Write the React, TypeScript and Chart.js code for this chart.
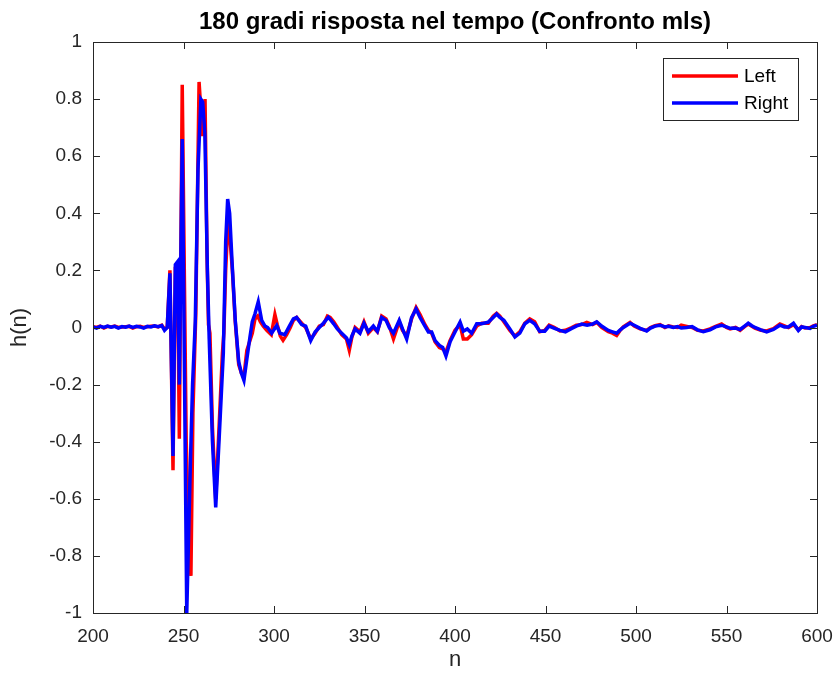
import React, { useEffect, useRef } from "react";
import { Chart, registerables } from "chart.js";

Chart.register(...registerables);

const titleText = "180 gradi risposta nel tempo (Confronto mls)";
const xLabel = "n";
const yLabel = "h(n)";
const xTicks = [200, 250, 300, 350, 400, 450, 500, 550, 600];
const yTicks = [-1, -0.8, -0.6, -0.4, -0.2, 0, 0.2, 0.4, 0.6, 0.8, 1];
const yTickLabels = ["-1", "-0.8", "-0.6", "-0.4", "-0.2", "0", "0.2", "0.4", "0.6", "0.8", "1"];
const seriesNames = ["Left", "Right"];

const rightN = [
  200, 202, 204, 206, 208, 210, 212, 214, 216, 218, 220, 222, 224, 226, 228, 230, 232, 234, 236, 238, 239.5,
  241, 242.5, 244.2, 245.5, 246.7, 247.7, 249.3, 251.8, 253.5, 255, 256.5, 258, 259.6, 260.6, 261.8, 263.2,
  264.2, 266, 267.8, 270, 272, 273.3, 274.4, 275.5, 276.9, 278.6, 280.5, 282, 283.4, 285, 286.7, 288, 289.5,
  291.3, 293.2, 295, 296.5, 298.7, 301.5, 303.3, 306, 308.5, 310.7, 312.5, 315.3, 317.5, 320.3, 322.7, 325,
  327.3, 330, 331.5, 333, 335, 337.4, 340.1, 341.6, 343, 344.8, 347.5, 349.7, 352.1, 354.9, 357.1, 359.5,
  361.9, 363.7, 366, 369.2, 371, 373.3, 376, 378.5, 380.7, 383.4, 385.3, 387.1, 389, 391.4, 393.2, 395,
  397.3, 400, 402.8, 404.6, 406.8, 409.2, 412, 414.7, 418.4, 421.1, 423, 424.8, 427, 430.3, 433.1, 435.8,
  438.6, 441.3, 444, 446.8, 449.6, 452, 455, 458, 461, 464.5, 467, 470, 473, 476, 478.3, 481, 484.7, 487,
  489.3, 491, 493, 496.7, 499, 502.3, 505.9, 508, 510.5, 513.3, 516, 518, 520.6, 523, 525, 528, 531, 534,
  537.2, 540.9, 544, 547.3, 550, 552, 555, 557.5, 560, 562, 564, 565.7, 569, 572.2, 575.9, 579.5, 582,
  584.2, 587, 589.7, 591.5, 593.4, 596.2, 598, 600,
];
const rightH = [
  0.002, -0.002, 0.004, 0.0, 0.005, 0.001, 0.004, -0.002, 0.003, 0.001, 0.005, 0.0, 0.004, 0.002, -0.002, 0.004, 0.002, 0.006, 0.003, 0.007, -0.01,
  0.0, 0.19, -0.45, 0.22, 0.23, -0.2, 0.66, -1.0, -0.55, -0.2, 0.02, 0.55, 0.8, 0.79, 0.68, 0.2,
  -0.04, -0.4, -0.63, -0.35, -0.09, 0.3, 0.45, 0.4, 0.22, 0.025, -0.12, -0.16, -0.185, -0.11, -0.034, 0.02, 0.048,
  0.09, 0.025, 0.005, 0.0, -0.02, 0.007, -0.02, -0.025, 0.005, 0.03, 0.035, 0.01, 0.005, -0.046, -0.016, 0.0,
  0.015, 0.036, 0.025, 0.013, -0.005, -0.02, -0.037, -0.06, -0.03, -0.005, -0.02, 0.015, -0.015, 0.005, -0.013, 0.035,
  0.025, 0.0, -0.02, 0.025, -0.005, -0.04, 0.035, 0.065, 0.035, 0.005, -0.016, -0.016, -0.046, -0.063, -0.07, -0.1,
  -0.05, -0.016, 0.019, -0.013, -0.005, -0.02, 0.013, 0.013, 0.019, 0.035, 0.047, 0.035, 0.025, -0.005, -0.033, -0.02,
  0.013, 0.025, 0.013, -0.013, -0.013, 0.005, -0.003, -0.01, -0.015, -0.003, 0.005, 0.012, 0.008, 0.012, 0.02, 0.005, -0.01, -0.015,
  -0.02, -0.01, 0.0, 0.015, 0.008, -0.003, -0.012, -0.002, 0.005, 0.008, 0.002, 0.004, 0.0, 0.003, -0.002, 0.0, 0.003, -0.008,
  -0.015, -0.008, 0.002, 0.008, 0.002, -0.003, -0.002, -0.007, 0.005, 0.015, 0.006, 0.0, -0.008, -0.015, -0.007, 0.008, 0.002,
  0.002, 0.015, -0.01, 0.002, 0.0, -0.003, 0.004, 0.008,
];

const leftN = [
  200, 202, 204, 206, 208, 210, 212, 214, 216, 218, 220, 222, 224, 226, 228, 230, 232, 234, 236, 238, 239.5,
  241, 242.5, 244.2, 245.5, 246.7, 247.7, 249.3, 251.5, 253, 254.1, 255.2, 256.8, 258.6, 260.5, 261.9, 263,
  263.8, 264.6, 266, 267.8, 270, 271.5, 272.3, 273.3, 274.5, 275.5, 277, 278.6, 280.5, 282, 283.4, 285,
  286.5, 288, 289.5, 291, 292.5, 294, 296, 298.5, 300.5, 301.8, 303.5, 305, 307, 309, 310.7, 312.5, 315.3,
  317.5, 320.3, 322.7, 325, 327.3, 329.5, 331, 333, 335, 337.4, 340, 341.6, 343, 344.8, 347.5, 349.7, 352.1,
  354.9, 357.1, 359.5, 361.9, 363.7, 366, 369.2, 371, 373.3, 376, 378.5, 380.7, 383.4, 385.3, 387.1, 389,
  391.4, 393.2, 395, 397.3, 400, 402.8, 404.6, 406.8, 409.2, 412, 414.7, 418.4, 421.1, 423, 424.8, 427,
  430.3, 433.1, 435.8, 438.6, 441.3, 444, 446.8, 449.6, 452, 455, 458, 461, 464.5, 467, 470, 472.8, 476,
  478.3, 481, 484.7, 487, 489.3, 491, 493, 496.7, 499, 502.3, 505.9, 508, 510.5, 513.3, 516, 518, 520.6,
  523, 525, 528, 531, 534, 537.2, 540.9, 544, 547.3, 550, 552, 555, 557.5, 560, 562, 564, 565.7, 569, 572.2,
  575.9, 579.5, 582, 584.2, 587, 589.7, 591.5, 593.4, 596.2, 598, 600,
];
const leftH = [
  0.003, 0.0, 0.005, -0.002, 0.004, 0.002, 0.005, 0.0, 0.002, 0.003, 0.004, -0.002, 0.003, 0.004, 0.0, 0.003, 0.004, 0.005, 0.002, 0.008, -0.005,
  0.0, 0.2, -0.5, 0.21, 0.22, -0.39, 0.85, -0.4, -0.75, -0.87, -0.3, 0.05, 0.86, 0.67, 0.8, 0.25,
  0.01, -0.02, -0.35, -0.6, -0.3, -0.09, -0.02, 0.2, 0.36, 0.33, 0.2, 0.02, -0.13, -0.16, -0.17, -0.08,
  -0.05, -0.02, 0.03, 0.04, 0.02, 0.005, -0.01, -0.025, 0.045, 0.01, -0.03, -0.045, -0.025, 0.0, 0.025, 0.035, 0.015,
  0.0, -0.04, -0.02, 0.005, 0.01, 0.04, 0.035, 0.02, 0.0, -0.025, -0.04, -0.08, -0.035, 0.0, -0.015, 0.02, -0.02,
  0.0, -0.015, 0.04, 0.03, 0.005, -0.04, 0.02, -0.01, -0.03, 0.03, 0.07, 0.045, 0.01, -0.01, -0.02, -0.05,
  -0.07, -0.075, -0.085, -0.045, -0.01, 0.01, -0.04, -0.04, -0.025, 0.005, 0.015, 0.015, 0.04, 0.05, 0.04, 0.02,
  -0.01, -0.03, -0.015, 0.015, 0.03, 0.02, -0.015, -0.01, 0.008, 0.0, -0.012, -0.01, 0.0, 0.008, 0.01, 0.018, 0.01,
  0.018, 0.0, -0.015, -0.02, -0.028, -0.012, 0.002, 0.018, 0.005, -0.005, -0.01, 0.0, 0.006, 0.01, 0.0, 0.006, 0.002,
  0.0, 0.008, 0.004, 0.0, -0.01, -0.012, -0.005, 0.004, 0.012, 0.0, -0.005, 0.0, -0.01, 0.003, 0.012, 0.004, -0.002, -0.01, -0.012,
  -0.004, 0.012, 0.006, 0.0, 0.01, -0.008, 0.003, -0.002, 0.0, 0.006, 0.01,
];

const FONT = "'Liberation Sans', Arial, Helvetica, sans-serif";
const AXIS_COLOR = "#262626";
const RED = "#ff0000";
const BLUE = "#0000ff";

const decorPlugin = {
  id: "matlabDecor",
  afterDatasetsDraw(chart: any) {
    const { ctx, chartArea } = chart;
    const { left, right, top, bottom } = chartArea;
    const xs = chart.scales.x;
    const ys = chart.scales.y;
    ctx.save();
    ctx.strokeStyle = AXIS_COLOR;
    ctx.lineWidth = 1;
    const tl = 7;
    ctx.beginPath();
    for (const v of xTicks) {
      const p = Math.round(xs.getPixelForValue(v)) + 0.5;
      ctx.moveTo(p, bottom);
      ctx.lineTo(p, bottom - tl);
      ctx.moveTo(p, top);
      ctx.lineTo(p, top + tl);
    }
    for (const v of yTicks) {
      const p = Math.round(ys.getPixelForValue(v)) + 0.5;
      ctx.moveTo(left, p);
      ctx.lineTo(left + tl, p);
      ctx.moveTo(right, p);
      ctx.lineTo(right - tl, p);
    }
    ctx.stroke();
    ctx.strokeRect(Math.round(left) + 0.5, Math.round(top) + 0.5, Math.round(right - left), Math.round(bottom - top));

    // title
    ctx.fillStyle = "#000000";
    ctx.font = `bold 24px ${FONT}`;
    ctx.textAlign = "center";
    ctx.textBaseline = "middle";
    ctx.fillText(titleText, (left + right) / 2, 22);

    // legend
    const bx = 663.5, by = 58.5, bw = 135, bh = 62;
    ctx.fillStyle = "#ffffff";
    ctx.fillRect(bx, by, bw, bh);
    ctx.strokeStyle = AXIS_COLOR;
    ctx.lineWidth = 1;
    ctx.strokeRect(bx, by, bw, bh);
    const colors = [RED, BLUE];
    const rows = [76, 103];
    ctx.font = `19px ${FONT}`;
    ctx.textAlign = "left";
    ctx.textBaseline = "middle";
    seriesNames.forEach((name, i) => {
      ctx.strokeStyle = colors[i];
      ctx.lineWidth = 3.5;
      ctx.beginPath();
      ctx.moveTo(672, rows[i]);
      ctx.lineTo(738, rows[i]);
      ctx.stroke();
      ctx.fillStyle = "#000000";
      ctx.fillText(name, 744, rows[i] + 1);
    });
    ctx.restore();
  },
};

export default function App() {
  const ref = useRef<HTMLCanvasElement | null>(null);
  useEffect(() => {
    if (!ref.current) return;
    const chart = new Chart(ref.current, {
      type: "line",
      data: {
        datasets: [
          {
            label: seriesNames[0],
            data: leftN.map((n, i) => ({ x: n, y: leftH[i] })),
            borderColor: RED,
            backgroundColor: RED,
            borderWidth: 3.5,
            pointRadius: 0,
            tension: 0,
            order: 1,
          },
          {
            label: seriesNames[1],
            data: rightN.map((n, i) => ({ x: n, y: rightH[i] })),
            borderColor: BLUE,
            backgroundColor: BLUE,
            borderWidth: 3.5,
            pointRadius: 0,
            tension: 0,
            order: 0,
          },
        ],
      },
      options: {
        responsive: false,
        animation: false,
        devicePixelRatio: 1,
        layout: { padding: { left: 0, right: 20, top: 42, bottom: 0 } },
        plugins: { legend: { display: false }, tooltip: { enabled: false }, title: { display: false } },
        scales: {
          x: {
            type: "linear",
            min: 200,
            max: 600,
            afterBuildTicks: (s: any) => {
              s.ticks = xTicks.map((v) => ({ value: v }));
            },
            afterFit: (s: any) => {
              s.height = 69;
              s.paddingRight = 0;
              s.paddingLeft = 0;
            },
            grid: { display: false, drawTicks: false },
            border: { display: false },
            ticks: {
              color: AXIS_COLOR,
              font: { family: FONT, size: 19 },
              padding: 12,
              maxRotation: 0,
              callback: (v: any) => String(v),
            },
            title: {
              display: true,
              text: xLabel,
              color: AXIS_COLOR,
              font: { family: FONT, size: 22 },
              padding: { top: 0, bottom: 9 },
            },
          },
          y: {
            type: "linear",
            min: -1,
            max: 1,
            afterBuildTicks: (s: any) => {
              s.ticks = yTicks.map((v) => ({ value: v }));
            },
            afterFit: (s: any) => {
              s.width = 93;
              s.paddingTop = 0;
              s.paddingBottom = 0;
            },
            grid: { display: false, drawTicks: false },
            border: { display: false },
            ticks: {
              color: AXIS_COLOR,
              font: { family: FONT, size: 19 },
              padding: 11,
              callback: (_v: any, i: number) => yTickLabels[i],
            },
            title: {
              display: true,
              text: yLabel,
              color: AXIS_COLOR,
              font: { family: FONT, size: 22 },
              padding: { top: 7, bottom: 0 },
            },
          },
        },
      },
      plugins: [decorPlugin],
    });
    return () => chart.destroy();
  }, []);
  return (
    <div style={{ position: "absolute", left: 0, top: 0, width: 837, height: 682, background: "#fff" }}>
      <canvas ref={ref} width={837} height={682} style={{ display: "block" }} />
    </div>
  );
}
